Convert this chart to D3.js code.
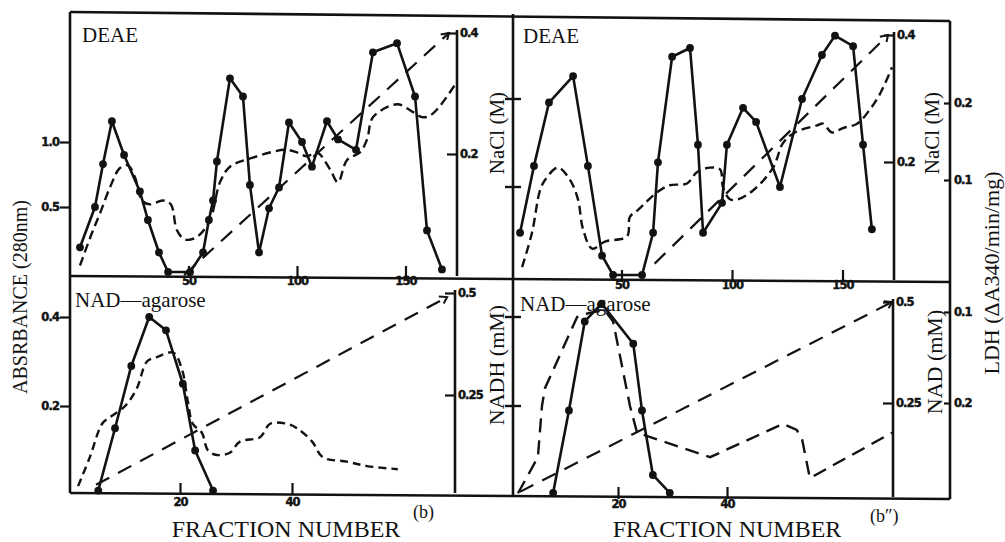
<!DOCTYPE html>
<html>
<head>
<meta charset="utf-8">
<script src="https://cdn.jsdelivr.net/npm/d3@7"></script>
<style>
  html, body { margin: 0; padding: 0; background: #fff; }
  svg { display: block; }
</style>
</head>
<body>
<svg id="fig" width="1005" height="542"></svg>
<script>
// ---------- data: (fraction, value) pairs per trace ----------
// DEAE column, run (b)
const deaeProteinB = [[0,0.19],[6.9,0.50],[10.6,0.83],[14.7,1.16],[20.3,0.90],[27.6,0.62],[31.3,0.40],[36.4,0.15],[40.6,0.0],[50.7,0.0],[56.7,0.15],[59.4,0.40],[61.3,0.55],[63.1,0.85],[69.1,1.49],[75.1,1.35],[78.3,0.67],[82.5,0.15],[87.1,0.49],[91.7,0.65],[96.3,1.15],[102.3,1.0],[106.9,0.81],[113.8,1.16],[118.9,1.02],[127.2,0.94],[135.0,1.69],[146.1,1.76],[154.4,1.35],[159.9,0.32],[166.8,0.02]];
const deaeActivityB = [[0,0.05],[5.5,0.30],[9.2,0.45],[13.8,0.65],[18.4,0.80],[22.1,0.82],[25.3,0.73],[28.6,0.55],[32.3,0.52],[38.2,0.55],[41.9,0.52],[44.7,0.32],[48.4,0.25],[53.9,0.27],[59.9,0.40],[64.5,0.69],[69.1,0.81],[79.7,0.88],[94.5,0.94],[100,0.92],[104.6,0.89],[109.2,0.92],[115.2,0.79],[118.9,0.69],[123.0,0.86],[129.0,0.92],[132.3,1.02],[135.0,1.19],[146.1,1.29],[153.5,1.23],[158.1,1.19],[162.7,1.22],[172.8,1.44]];
const deaeSaltB = [[48,0],[170,0.40]];

// DEAE column, run (b")
const deaeProteinB2 = [[4.1,0.24],[10.4,0.62],[17.2,0.98],[28.1,1.13],[34.8,0.62],[41.2,0.11],[46.2,0],[59.3,0],[64.3,0.24],[66.5,0.64],[72.9,1.24],[81.0,1.29],[84.6,0.74],[86.9,0.24],[95.5,0.41],[97.7,0.74],[105.0,0.95],[110.9,0.87],[121.7,0.50],[131.7,1.0],[140.7,1.25],[146.6,1.36],[154.8,1.30],[159.3,0.74],[163.3,0.26]];
const deaeActivityB2 = [[5.0,0.045],[9.5,0.24],[13.1,0.48],[15.4,0.54],[21.3,0.61],[26.7,0.54],[30.3,0.43],[32.6,0.26],[36.7,0.15],[42.5,0.19],[52.5,0.22],[53.8,0.33],[57.5,0.37],[66.1,0.47],[71.9,0.51],[79.6,0.52],[84.2,0.585],[90.0,0.61],[94.6,0.60],[95.9,0.50],[99.1,0.43],[102.7,0.43],[109.5,0.48],[118.6,0.61],[123.1,0.75],[128.5,0.81],[138.5,0.85],[141.2,0.86],[145.2,0.81],[150.2,0.835],[156.6,0.86],[162.4,0.94],[167.0,1.03],[172.4,1.18]];
const deaeSaltB2 = [[65,0.04],[170.6,0.40]];

// NAD-agarose column, run (b)
const agaroseProteinB = [[5.4,0.01],[8.4,0.15],[11.3,0.29],[14.5,0.40],[17.5,0.37],[20.5,0.25],[22.7,0.10],[25.9,0.01]];
const agaroseActivityB = [[1.8,0.02],[3.9,0.085],[6.1,0.16],[7.5,0.175],[10.2,0.20],[12.3,0.24],[14.1,0.30],[15.9,0.31],[18.8,0.32],[20.4,0.28],[21.4,0.21],[22.3,0.16],[23.9,0.14],[25.0,0.10],[26.6,0.09],[28.9,0.095],[30.7,0.12],[34.3,0.13],[36.1,0.16],[39.1,0.16],[40.9,0.15],[43.6,0.12],[45.5,0.085],[49.8,0.075],[53.4,0.065],[58.9,0.058]];
const agaroseNadhB = [[5,0.03],[67.7,0.49]];

// NAD-agarose column, run (b")
const agaroseProteinB2 = [[8.1,0.005],[11.0,0.19],[13.9,0.39],[17.0,0.43],[22.8,0.34],[24.4,0.19],[26.4,0.045],[29.5,0.005]];
const agaroseActivityB2 = [[1.65,0.004],[5.3,0.085],[6.05,0.20],[6.6,0.24],[12.5,0.40],[14.9,0.41],[17.6,0.415],[19.1,0.39],[22.2,0.20],[23.5,0.14],[36.9,0.085],[50.3,0.16],[52.8,0.146],[53.8,0.124],[55.2,0.038],[70.3,0.14]];
const agaroseNadB2 = [[2,0.03],[70.3,0.5]];

// tick values
const deaeFractionTicks = [50, 100, 150];
const agaroseFractionTicks = [20, 40];
const deaeAbsTicks = [0.5, 1.0];
const agaroseAbsTicks = [0.2, 0.4];
const saltTicks = [0.2, 0.4];
const nucleotideTicks = [0.25, 0.5];
const ldhTicks = [0.1, 0.2];

// ---------- drawing ----------
const svg = d3.select("#fig");
const INK = "#121212";
const SERIF = "'Liberation Serif','Times New Roman',serif";
const TICKFONT = "'DejaVu Sans','Liberation Sans',Arial,sans-serif";

svg.append("defs").append("marker")
  .attr("id", "arrowTip")
  .attr("viewBox", "-10 -6 12 12")
  .attr("refX", 0).attr("refY", 0)
  .attr("markerWidth", 12).attr("markerHeight", 12)
  .attr("markerUnits", "userSpaceOnUse")
  .attr("orient", "auto")
  .append("path")
  .attr("d", "M-7,-4.5 L0,0 L-6,4")
  .attr("fill", "none").attr("stroke", INK).attr("stroke-width", 2);

// outer frame lines
const frame = svg.append("g").attr("stroke", INK).attr("stroke-width", 2.6).attr("fill", "none");
frame.append("path").attr("d", "M70,12 L950,21");      // top
frame.append("path").attr("d", "M70,276 L950,282");    // between column blocks
frame.append("path").attr("d", "M70,493 L950,499");    // bottom
frame.append("path").attr("d", "M70,12 L70,493");      // left
frame.append("path").attr("d", "M513,14 L513,497");    // middle divider
frame.append("path").attr("d", "M950,21 L950,499");    // right

function styleAxis(g, size) {
  g.select(".domain").remove();
  g.attr("color", INK);
  g.selectAll(".tick line").attr("stroke-width", 2.2);
  g.selectAll(".tick text")
    .attr("font-family", TICKFONT).attr("font-size", size || 11.5)
    .attr("font-weight", "bold").attr("letter-spacing", "-0.9")
    .attr("stroke", INK).attr("stroke-width", 0.45);
}

function drawSubplot(o) {
  const x = d3.scaleLinear().domain(o.xDomain).range(o.xRange);
  const yA = d3.scaleLinear().domain(o.aDomain).range(o.aRange);
  const y2 = d3.scaleLinear().domain(o.sDomain).range(o.sRange);

  // fraction axis: ticks point into the plot
  const gx = svg.append("g").attr("transform", `translate(0,${o.axisY})`)
    .call(d3.axisBottom(x).tickValues(o.xTicks).tickSizeInner(-9).tickSizeOuter(0)
      .tickPadding(o.xPad).tickFormat(d3.format("d")));
  styleAxis(gx, 11.5);
  gx.selectAll(".tick line").attr("y2", -10).attr("y1", 2);

  // absorbance axis on the left frame
  if (o.aLabeled) {
    const ga = svg.append("g").attr("transform", `translate(${o.leftX},0)`)
      .call(d3.axisLeft(yA).tickValues(o.aTicks).tickSizeInner(10).tickSizeOuter(0)
        .tickPadding(1).tickFormat(d3.format(".1f")));
    styleAxis(ga);
  } else {
    svg.append("g").selectAll("line").data(o.aTicks).join("line")
      .attr("x1", o.leftX - 8).attr("x2", o.leftX + 8)
      .attr("y1", d => yA(d)).attr("y2", d => yA(d))
      .attr("stroke", INK).attr("stroke-width", 2.4);
  }

  // salt / nucleotide axis
  svg.append("line")
    .attr("x1", o.rightX).attr("x2", o.rightX)
    .attr("y1", o.rightTop).attr("y2", o.axisY)
    .attr("stroke", INK).attr("stroke-width", 2.6);
  const gs = svg.append("g").attr("transform", `translate(${o.rightX},0)`)
    .call(d3.axisRight(y2).tickValues(o.sTicks).tickSizeInner(-10).tickSizeOuter(0)
      .tickPadding(3).tickFormat(o.sFormat));
  styleAxis(gs);

  // traces
  const lineA = d3.line().x(d => x(d[0])).y(d => yA(d[1]));
  const lineS = d3.line().x(d => x(d[0])).y(d => y2(d[1]));

  svg.append("path").datum(o.activity)
    .attr("d", lineA.curve(o.activityCurve))
    .attr("fill", "none").attr("stroke", INK).attr("stroke-width", 2.4)
    .attr("stroke-dasharray", o.activityDash);

  svg.append("path").datum(o.gradient)
    .attr("d", lineS.curve(d3.curveLinear))
    .attr("fill", "none").attr("stroke", INK).attr("stroke-width", 2.2)
    .attr("stroke-dasharray", "15,10")
    .attr("marker-end", "url(#arrowTip)");

  svg.append("path").datum(o.protein)
    .attr("d", d3.line().x(d => x(d[0])).y(d => yA(d[1])))
    .attr("fill", "none").attr("stroke", INK).attr("stroke-width", 2.6)
    .attr("stroke-linejoin", "round");

  svg.append("g").selectAll("circle").data(o.protein).join("circle")
    .attr("cx", d => x(d[0])).attr("cy", d => yA(d[1]))
    .attr("r", 3.9).attr("fill", INK);

  return { x, yA, y2 };
}

// DEAE (b)
drawSubplot({
  xDomain: [0, 150], xRange: [80, 405.5], xTicks: deaeFractionTicks, axisY: 276, xPad: 1,
  aDomain: [0, 1], aRange: [272, 142], aTicks: deaeAbsTicks, aLabeled: true, leftX: 70,
  sDomain: [0, 0.4], sRange: [275, 33], sTicks: saltTicks, sFormat: d3.format(".1f"),
  rightX: 457, rightTop: 30,
  protein: deaeProteinB, activity: deaeActivityB, gradient: deaeSaltB,
  activityDash: "9,5", activityCurve: d3.curveCatmullRom.alpha(0.5)
});

// DEAE (b")
drawSubplot({
  xDomain: [0, 150], xRange: [511, 842.5], xTicks: deaeFractionTicks, axisY: 280, xPad: 1,
  aDomain: [0, 1], aRange: [275, 99], aTicks: deaeAbsTicks, aLabeled: false, leftX: 513,
  sDomain: [0, 0.4], sRange: [289, 35], sTicks: saltTicks, sFormat: d3.format(".1f"),
  rightX: 894, rightTop: 32,
  protein: deaeProteinB2, activity: deaeActivityB2, gradient: deaeSaltB2,
  activityDash: "9,5", activityCurve: d3.curveCatmullRom.alpha(0.5)
});

// NAD-agarose (b)
drawSubplot({
  xDomain: [0, 40], xRange: [68, 292], xTicks: agaroseFractionTicks, axisY: 493, xPad: 5,
  aDomain: [0, 0.4], aRange: [495, 317], aTicks: agaroseAbsTicks, aLabeled: true, leftX: 70,
  sDomain: [0, 0.5], sRange: [497, 293], sTicks: nucleotideTicks, sFormat: d3.format("~g"),
  rightX: 455, rightTop: 290,
  protein: agaroseProteinB, activity: agaroseActivityB, gradient: agaroseNadhB,
  activityDash: "8,5", activityCurve: d3.curveCatmullRom.alpha(0.5)
});

// NAD-agarose (b")
drawSubplot({
  xDomain: [0, 40], xRange: [509, 727], xTicks: agaroseFractionTicks, axisY: 497, xPad: 3,
  aDomain: [0, 0.4], aRange: [495, 317], aTicks: agaroseAbsTicks, aLabeled: false, leftX: 513,
  sDomain: [0, 0.5], sRange: [504, 302], sTicks: nucleotideTicks, sFormat: d3.format("~g"),
  rightX: 893, rightTop: 299,
  protein: agaroseProteinB2, activity: agaroseActivityB2, gradient: agaroseNadB2,
  activityDash: "14,8", activityCurve: d3.curveLinear
});

// LDH activity axis on the outer right frame
[[180, 103], [312, 403]].forEach(range => {
  const ldh = d3.scaleLinear().domain(ldhTicks).range(range);
  const g = svg.append("g").attr("transform", "translate(950,0)")
    .call(d3.axisRight(ldh).tickValues(ldhTicks).tickSizeInner(-6).tickSizeOuter(0)
      .tickPadding(4).tickFormat(d3.format(".1f")));
  styleAxis(g);
});

// ---------- text ----------
function label(txt, x, y, size, anchor) {
  return svg.append("text").attr("x", x).attr("y", y)
    .attr("font-family", SERIF).attr("font-size", size)
    .attr("text-anchor", anchor || "start").attr("fill", INK).text(txt);
}
function vlabel(txt, cx, cy, size) {
  return svg.append("text")
    .attr("transform", `translate(${cx + size * 0.33},${cy}) rotate(-90)`)
    .attr("font-family", SERIF).attr("font-size", size)
    .attr("text-anchor", "middle").attr("fill", INK).text(txt);
}

label("DEAE", 82, 42, 21);
label("DEAE", 523, 43, 21);
label("NAD\u2014agarose", 75, 307, 21);
label("NAD\u2014agarose", 520, 311, 21);
label("FRACTION NUMBER", 286, 537, 24, "middle");
label("FRACTION NUMBER", 727, 537, 24, "middle");
label("(b)", 413, 518, 18);
label("(b\u2033)", 870, 522, 18);

vlabel("ABSRBANCE (280nm)", 20, 297, 20);
vlabel("NaCl (M)", 497, 133, 21);
vlabel("NADH (mM)", 497, 365, 22);
vlabel("NaCl (M)", 932, 133, 21);
vlabel("NAD (mM)", 935, 362, 22);
vlabel("LDH (\u0394A340/min/mg)", 992, 273, 22);
</script>
</body>
</html>
